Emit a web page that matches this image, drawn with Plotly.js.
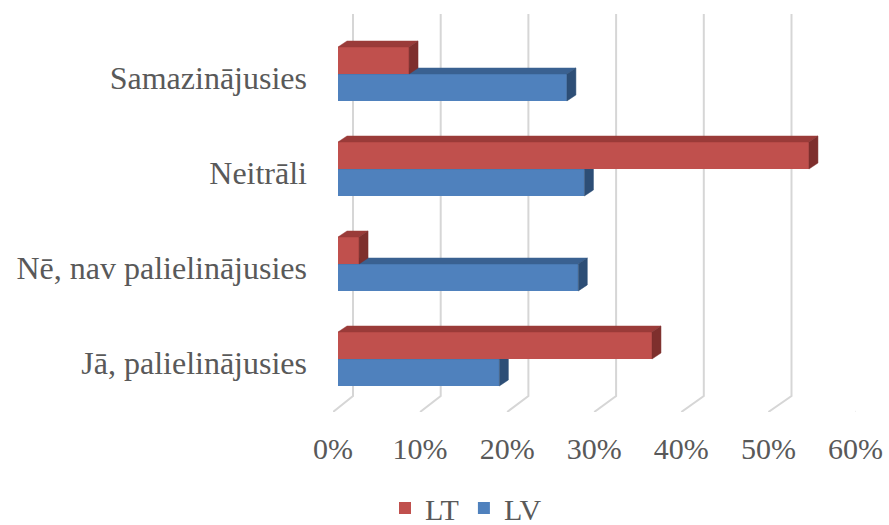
<!DOCTYPE html>
<html><head><meta charset="utf-8">
<script src="https://cdn.plot.ly/plotly-3.0.1.min.js"></script>
<style>html,body{margin:0;padding:0;background:#fff}#chart{width:889px;height:525px}</style>
</head><body><div id="chart"></div>
<script>
// ---- data ----
const categories = ["Jā, palielinājusies", "Nē, nav palielinājusies", "Neitrāli", "Samazinājusies"];
const seriesNames = ["LT", "LV"];
const valuesLT = [35.8, 2.4, 53.7, 8.1];
const valuesLV = [18.4, 27.4, 28.1, 26.1];
const tickValues = [0, 10, 20, 30, 40, 50, 60];
const tickLabels = ["0%", "10%", "20%", "30%", "40%", "50%", "60%"];

// ---- geometry (px) ----
const W = 889, H = 525;
const xMax = 60;
const barX0 = 338, barScale = 8.77;      // front bar plane
const backX0 = 353, backScale = 8.77;    // back wall gridlines
const labX0 = 333, labScale = 8.708;     // floor front edge / tick labels
const catTop = 26.5, catBottom = 406.5;  // category band extent
const gridTop = 14, gridBackBottom = 396, floorFront = 412;
const depthX = 9, depthY = 6;
const barW = 0.284;
const catPx = (catBottom - catTop) / categories.length;
const DX = depthX / barScale;
const DY = depthY / catPx;

const fx = px => px / W;
const fy = px => 1 - px / H;

const colors = {
  LT: {front: "#C0504D", top: "#9A3B39", side: "#7E2F2D"},
  LV: {front: "#4F81BD", top: "#3A6191", side: "#2D4E76"}
};

const idx = categories.map((c, i) => i);

function faces(vals, off) {
  const top = {x: [], y: []}, side = {x: [], y: []};
  vals.forEach((v, i) => {
    const y0 = i + off, y1 = i + off + barW;
    top.x.push(0, DX, v + DX, v, 0, null);
    top.y.push(y1, y1 + DY, y1 + DY, y1, y1, null);
    side.x.push(v, v + DX, v + DX, v, v, null);
    side.y.push(y1, y1 + DY, y0 + DY, y0, y1, null);
  });
  return {top, side};
}

function seriesTraces(name, vals, off, xa, ya, rank) {
  const c = colors[name];
  const f = faces(vals, off);
  return [
    {type: "bar", orientation: "h", name: name, x: vals, y: idx, width: barW, offset: off,
     marker: {color: c.front, line: {width: 0}}, xaxis: xa, yaxis: ya, legendrank: rank, hoverinfo: "skip"},
    {type: "scatter", mode: "lines", x: f.top.x, y: f.top.y, fill: "toself", fillcolor: c.top,
     line: {color: c.top, width: 0.5}, xaxis: xa, yaxis: ya, showlegend: false, hoverinfo: "skip"},
    {type: "scatter", mode: "lines", x: f.side.x, y: f.side.y, fill: "toself", fillcolor: c.side,
     line: {color: c.side, width: 0.5}, xaxis: xa, yaxis: ya, showlegend: false, hoverinfo: "skip"}
  ];
}

// gridlines: back wall verticals + slanted floor lines, in the label-axis units
const gy = px => (floorFront - px) / (floorFront - gridTop);
const gridX = [], gridY = [];
tickValues.forEach(v => {
  const backPx = backX0 + backScale * v;
  const bu = (backPx - labX0) / labScale;
  gridX.push(bu, bu, v, null);
  gridY.push(gy(gridTop), gy(gridBackBottom), gy(floorFront), null);
});

const traces = [
  {type: "scatter", mode: "lines", x: gridX, y: gridY, xaxis: "x", yaxis: "y",
   line: {color: "#D6D6D6", width: 2}, showlegend: false, hoverinfo: "skip"},
  ...seriesTraces("LV", valuesLV, -barW, "x2", "y2", 2),
  ...seriesTraces("LT", valuesLT, 0, "x3", "y3", 1)
];

const font = "'Liberation Serif', 'Times New Roman', Times, serif";
const layout = {
  width: W, height: H,
  margin: {l: 0, r: 0, t: 0, b: 0, autoexpand: false},
  paper_bgcolor: "#fff", plot_bgcolor: "rgba(0,0,0,0)",
  barmode: "overlay",
  showlegend: true,
  hovermode: false,
  xaxis: {domain: [fx(labX0), fx(labX0 + labScale * xMax)], range: [0, xMax], anchor: "y",
          tickvals: tickValues, ticktext: tickLabels, ticks: "", showgrid: false, zeroline: false,
          showline: false, tickfont: {family: font, size: 30, color: "#595959"}, ticklabelstandoff: 16},
  yaxis: {domain: [fy(floorFront), fy(gridTop)], range: [0, 1], anchor: "x", visible: false},
  xaxis2: {domain: [fx(barX0), fx(barX0 + barScale * xMax)], range: [0, xMax], anchor: "y2",
           visible: false},
  yaxis2: {domain: [fy(catBottom), fy(catTop)], range: [-0.5, categories.length - 0.5], anchor: "x2",
           tickvals: idx, ticktext: categories, ticks: "", showgrid: false, zeroline: false, showline: false,
           tickfont: {family: font, size: 32, color: "#595959"}, ticklabelstandoff: 30, ticklabelshift: 4},
  xaxis3: {overlaying: "x2", range: [0, xMax], anchor: "y3", visible: false},
  yaxis3: {overlaying: "y2", range: [-0.5, categories.length - 0.5], anchor: "x3", visible: false},
  legend: {orientation: "h", x: fx(466), xanchor: "center", y: fy(482), yanchor: "top",
           font: {family: font, size: 30, color: "#595959"}, bgcolor: "rgba(0,0,0,0)"}
};

Plotly.newPlot("chart", traces, layout, {staticPlot: true, displayModeBar: false});
</script>
</body></html>
